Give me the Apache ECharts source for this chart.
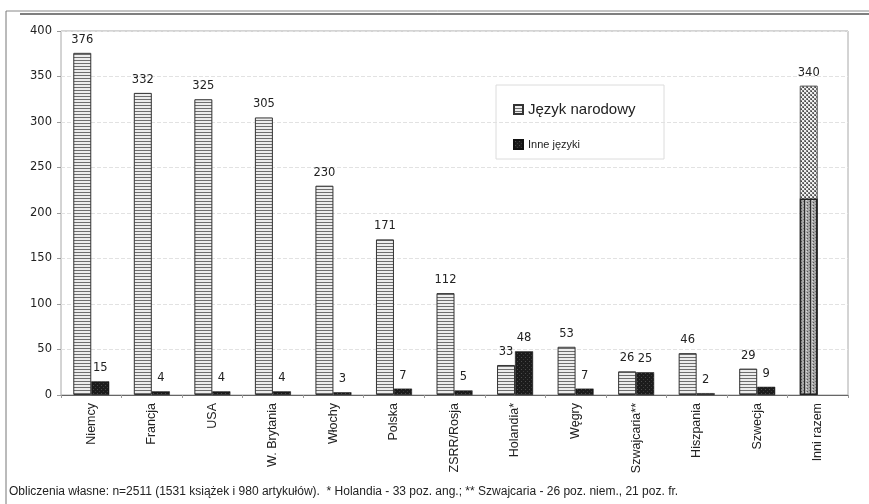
<!DOCTYPE html>
<html>
<head>
<meta charset="utf-8">
<script src="https://cdn.jsdelivr.net/npm/echarts@6/dist/echarts.min.js"></script>
<style>
  html, body { margin: 0; padding: 0; background: #fff; }
  #chart { width: 869px; height: 504px; }
</style>
</head>
<body>
<div id="chart"></div>
<script>
// Countries and publication counts
const categories = ['Niemcy', 'Francja', 'USA', 'W. Brytania', 'Włochy', 'Polska', 'ZSRR/Rosja',
  'Holandia*', 'Węgry', 'Szwajcaria**', 'Hiszpania', 'Szwecja', 'Inni razem'];
const jezykNarodowy = [376, 332, 325, 305, 230, 171, 112, 33, 53, 26, 46, 29, 340];
const inneJezyki = [15, 4, 4, 4, 3, 7, 5, 48, 7, 25, 2, 9, null];
// lower, differently shaded part of the "Inni razem" column
const inniRazemDolna = [null, null, null, null, null, null, null, null, null, null, null, null, 216];
const yTicks = { min: 0, max: 400, step: 50 };
const przypis = 'Obliczenia własne: n=2511 (1531 książek i 980 artykułów).  * Holandia - 33 poz. ang.; ** Szwajcaria - 26 poz. niem., 21 poz. fr.';

// Fill patterns for the columns
function makePattern(w, h, bg, dots) {
  const c = document.createElement('canvas');
  c.width = w; c.height = h;
  const g = c.getContext('2d');
  g.fillStyle = bg; g.fillRect(0, 0, w, h);
  dots.forEach(d => { g.fillStyle = d[4]; g.fillRect(d[0], d[1], d[2], d[3]); });
  return { image: c, repeat: 'repeat' };
}
const stripes = makePattern(4, 3, '#ececec', [[0, 0, 4, 1, '#6e6e6e']]);
const dark = makePattern(4, 4, '#1c1c1c', [[1, 1, 1, 1, '#4a4a4a'], [3, 3, 1, 1, '#3a3a3a']]);
const checker = makePattern(4, 4, '#f0f0f0', [[0, 0, 2, 2, '#7a7a7a'], [2, 2, 2, 2, '#7a7a7a'], [1, 1, 1, 1, '#444'], [3, 3, 1, 1, '#444']]);
const dotted = makePattern(6, 3, '#a8a8a8', [[0, 0, 1, 3, '#2a2a2a'], [3, 1, 1, 1, '#555'], [5, 0, 1, 1, '#777'], [2, 2, 1, 1, '#ddd']]);

const chart = echarts.init(document.getElementById('chart'), null, { renderer: 'canvas' });

const labelStyle = { show: true, position: 'top', distance: 7, color: '#222', fontSize: 11.5, fontFamily: 'DejaVu Sans' };

chart.setOption({
  animation: false,
  backgroundColor: '#fff',
  textStyle: { fontFamily: 'Liberation Sans' },
  grid: { left: 61, right: 21, top: 31, bottom: 109, show: true, borderColor: '#a8a8a8', borderWidth: 1 },
  legend: {
    orient: 'vertical', left: 508, top: 97, itemGap: 22,
    itemWidth: 9, itemHeight: 9, icon: 'rect', selectedMode: false,
    data: [
      { name: 'Język narodowy', textStyle: { fontSize: 15, color: '#222', fontFamily: 'Liberation Sans' } },
      { name: 'Inne języki', textStyle: { fontSize: 11, color: '#222', fontFamily: 'Liberation Sans' } }
    ]
  },
  xAxis: [
    {
      type: 'category', data: categories,
      axisLine: { lineStyle: { color: '#666', width: 1 } },
      axisTick: { show: true, length: 3, lineStyle: { color: '#999' } },
      axisLabel: { rotate: 90, interval: 0, fontSize: 12.5, color: '#222', margin: 8, fontFamily: 'Liberation Sans' }
    },
    { type: 'category', data: categories, show: false }
  ],
  yAxis: {
    type: 'value', min: yTicks.min, max: yTicks.max, interval: yTicks.step,
    axisLine: { show: false },
    axisTick: { show: true, length: 4, lineStyle: { color: '#999' } },
    axisLabel: { fontSize: 11.5, color: '#222', margin: 9, fontFamily: 'DejaVu Sans' },
    splitLine: { lineStyle: { color: '#e2e2e2', type: 'dashed' } }
  },
  series: [
    {
      name: 'Język narodowy', type: 'bar', barWidth: 18, barGap: '0%',
      data: jezykNarodowy.map((v, i) => i === categories.length - 1
        ? { value: v, itemStyle: { color: checker, borderColor: '#555', borderWidth: 1 } }
        : v),
      itemStyle: { color: stripes, borderColor: '#333', borderWidth: 1 },
      label: labelStyle
    },
    {
      name: 'Inne języki', type: 'bar', barWidth: 18, barGap: '0%',
      data: inneJezyki,
      itemStyle: { color: dark, borderColor: '#111', borderWidth: 0.5 },
      label: labelStyle
    },
    {
      name: 'inniDolna', type: 'bar', xAxisIndex: 1, barWidth: 18, barGap: '0%',
      data: inniRazemDolna,
      itemStyle: { color: dotted, borderColor: '#222', borderWidth: 1.5 },
      z: 3
    },
    {
      name: 'inniPusta', type: 'bar', xAxisIndex: 1, barWidth: 18, barGap: '0%',
      data: categories.map(() => null)
    }
  ],
  graphic: [
    // frame lines
    { type: 'line', shape: { x1: 6, y1: 11, x2: 869, y2: 11 }, style: { stroke: '#888', lineWidth: 1 } },
    { type: 'line', shape: { x1: 20, y1: 14, x2: 869, y2: 14 }, style: { stroke: '#555', lineWidth: 1.5 } },
    { type: 'line', shape: { x1: 6, y1: 11, x2: 6, y2: 504 }, style: { stroke: '#777', lineWidth: 1 } },
    // legend box
    { type: 'rect', shape: { x: 496, y: 85, width: 168, height: 74 }, style: { fill: 'rgba(255,255,255,0)', stroke: '#dcdcdc', lineWidth: 1 }, z: -1 },
    // footnote
    { type: 'text', left: 9, top: 486, style: { text: przypis, fontSize: 12, fill: '#222', fontFamily: 'Liberation Sans' } }
  ]
});
</script>
</body>
</html>
